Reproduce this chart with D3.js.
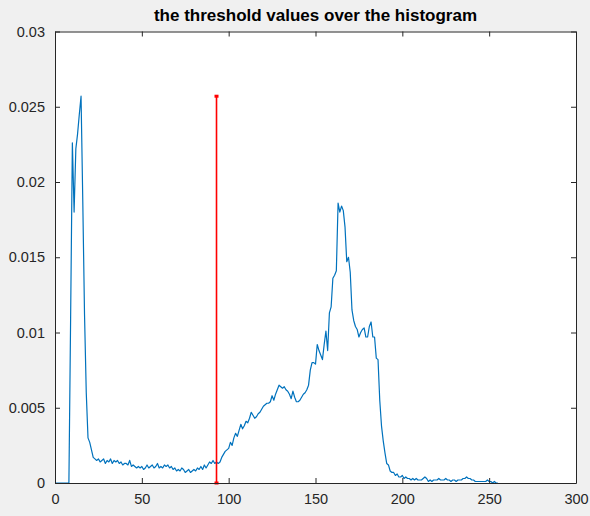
<!DOCTYPE html>
<html>
<head>
<meta charset="utf-8">
<script src="https://cdn.jsdelivr.net/npm/d3@7"></script>
<style>
	body { margin: 0; background: #f0f0f0; }
	svg { display: block; font-family: "Liberation Sans", Arial, sans-serif; }
	.tick text { font-size: 14.5px; fill: #262626; }
	.domain, .tick line { stroke: #262626; }
</style>
</head>
<body>
<svg width="590" height="516" id="chart"></svg>
<script>
	// histogram of gray levels 0..255 (values in units of 1e-4)
	var levels = d3.range(0, 256);
	var histValues = [
		0, 0, 0, 0, 0, 0, 0, 0, 0, 110,
		226, 180, 222, 232, 245, 257, 187, 112, 60, 30,
		27, 22, 17, 16, 15, 16, 14, 15, 16, 13,
		15, 14, 16, 13, 15, 14, 15, 13, 14, 12,
		13, 13, 12, 15, 11, 12, 11, 10, 11, 10,
		11, 9, 10, 12, 10, 11, 12, 10, 11, 13,
		10, 11, 10, 12, 11, 12, 10, 11, 9, 10,
		8, 9, 8, 10, 9, 7, 8, 9, 7, 8,
		9, 8, 10, 9, 11, 9, 12, 10, 12, 14,
		13, 15, 13, 14, 13, 14, 17, 19, 21, 22,
		23, 27, 25, 30, 33, 31, 35, 39, 36, 38,
		41, 40, 43, 47, 45, 43, 44, 46, 47, 49,
		51, 52, 53, 53, 54, 58, 55, 59, 62, 65,
		64, 63, 64, 62, 61, 59, 56, 61, 57, 54,
		54, 55, 57, 59, 60, 62, 65, 75, 80, 80,
		79, 92, 88, 85, 82, 92, 101, 88, 113, 117,
		136, 138, 141, 186, 180, 184, 181, 170, 147, 150,
		140, 115, 108, 104, 102, 97, 100, 102, 103, 97,
		97, 104, 107, 97, 97, 83, 82, 55, 38, 28,
		20, 13, 12, 8, 7, 7, 5, 6, 4, 4,
		5, 3, 4, 3, 3, 2, 3, 2, 3, 2,
		2, 2, 3, 4, 3, 1, 2, 1, 2, 2,
		2, 3, 2, 2, 2, 3, 2, 2, 1, 2,
		2, 1, 2, 2, 2, 3, 3, 4, 3, 3,
		2, 2, 1, 1, 1, 1, 1, 1, 1, 2,
		1, 1, 0, 1, 0, 0
	];
	var valueUnit = 1e-4;
	var threshold = 93;

	var xTicks = [0, 50, 100, 150, 200, 250, 300];
	var yTicks = [0, 0.005, 0.01, 0.015, 0.02, 0.025, 0.03];
	var yTickLabels = ["0", "0.005", "0.01", "0.015", "0.02", "0.025", "0.03"];
	var title = "the threshold values over the histogram";

	var svg = d3.select("svg#chart"),
		margin = { top: 31.5, right: 14, bottom: 33, left: 55 },
		width = +svg.attr("width") - margin.left - margin.right,
		height = +svg.attr("height") - margin.top - margin.bottom,
		g = svg.append("g").attr("transform", "translate(" + margin.left + "," + margin.top + ")");

	var data = levels.map(function(l, i) { return { level: l, value: histValues[i] * valueUnit }; });
	var peak = d3.max(data, function(d) { return d.value; });

	var x = d3.scaleLinear().domain([0, 300]).range([0, width]);
	var y = d3.scaleLinear().domain([0, 0.03]).range([height, 0]);

	// axes background
	g.append("rect")
		.attr("width", width)
		.attr("height", height)
		.attr("fill", "#ffffff");

	// histogram line
	g.append("path")
		.datum(data)
		.attr("fill", "none")
		.attr("stroke", "#0072bd")
		.attr("stroke-width", 1.2)
		.attr("stroke-linejoin", "round")
		.attr("d", d3.line()
			.x(function(d) { return x(d.level); })
			.y(function(d) { return y(d.value); }));

	// threshold line
	var thr = [{ level: threshold, value: 0 }, { level: threshold, value: peak }];
	g.append("line")
		.attr("x1", x(threshold)).attr("x2", x(threshold))
		.attr("y1", y(0)).attr("y2", y(peak))
		.attr("stroke", "#ff0000")
		.attr("stroke-width", 1.6);
	g.selectAll(".thr-dot")
		.data(thr)
		.enter().append("rect")
		.attr("class", "thr-dot")
		.attr("x", function(d) { return x(d.level) - 2; })
		.attr("y", function(d) { return y(d.value) - 1.5; })
		.attr("width", 4)
		.attr("height", 3)
		.attr("fill", "#ff0000");

	// add the x Axis (bottom + top)
	g.append("g")
		.attr("transform", "translate(0," + height + ")")
		.call(d3.axisBottom(x).tickValues(xTicks).tickSizeInner(-5).tickSizeOuter(0).tickPadding(11))
		.selectAll("text").attr("dy", "0.71em");
	g.append("g")
		.call(d3.axisTop(x).tickValues(xTicks).tickSizeInner(-5).tickSizeOuter(0).tickFormat(""));

	// add the y Axis (left + right)
	g.append("g")
		.call(d3.axisLeft(y).tickValues(yTicks).tickSizeInner(-5).tickSizeOuter(0).tickPadding(10)
			.tickFormat(function(d, i) { return yTickLabels[i]; }));
	g.append("g")
		.attr("transform", "translate(" + width + ",0)")
		.call(d3.axisRight(y).tickValues(yTicks).tickSizeInner(-5).tickSizeOuter(0).tickFormat(""));

	// title
	svg.append("text")
		.attr("x", margin.left + width / 2)
		.attr("y", 21)
		.attr("text-anchor", "middle")
		.style("font-size", "17px")
		.style("font-weight", "bold")
		.style("fill", "#000")
		.text(title);
</script>
</body>
</html>
